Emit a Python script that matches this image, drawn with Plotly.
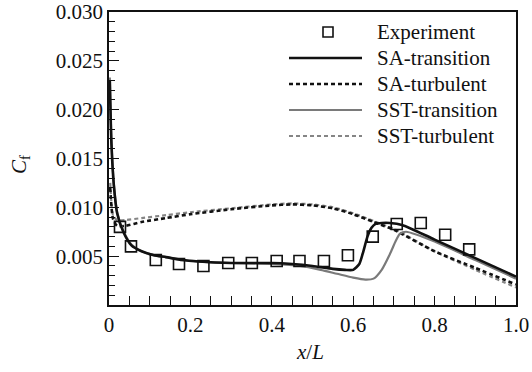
import plotly.graph_objects as go

# ---------------- data ----------------
exp_x = [0.027, 0.054, 0.115, 0.172, 0.232, 0.293, 0.351, 0.412, 0.468, 0.528, 0.587, 0.648, 0.707, 0.766, 0.826, 0.885]
exp_y = [0.0080, 0.0060, 0.0046, 0.0042, 0.0040, 0.0043, 0.0043, 0.0045, 0.0045, 0.0045, 0.0051, 0.0070, 0.0083, 0.0084, 0.0072, 0.0057]

sa_tr_x = [0.002, 0.006, 0.012, 0.02, 0.035, 0.055, 0.08, 0.11, 0.14, 0.18, 0.22, 0.3, 0.4, 0.45, 0.5, 0.55,
           0.58, 0.6, 0.615, 0.625, 0.635, 0.645, 0.655, 0.67, 0.69, 0.72, 0.8, 0.9, 1.0]
sa_tr_y = [0.0230, 0.0165, 0.0122, 0.0094, 0.0075, 0.0061, 0.0055, 0.0051, 0.0049, 0.0046, 0.00445, 0.0043, 0.0043,
           0.0042, 0.0040, 0.0037, 0.0036, 0.0036, 0.0042, 0.0055, 0.0070, 0.0079, 0.0083, 0.0084, 0.0084, 0.0082,
           0.0067, 0.0048, 0.0029]

sst_tr_x = [0.002, 0.006, 0.012, 0.02, 0.035, 0.055, 0.08, 0.11, 0.14, 0.18, 0.22, 0.3, 0.4, 0.47, 0.52, 0.56,
            0.6, 0.63, 0.65, 0.67, 0.69, 0.705, 0.715, 0.73, 0.8, 0.9, 1.0]
sst_tr_y = [0.0233, 0.0168, 0.0124, 0.0095, 0.0076, 0.0062, 0.0055, 0.0051, 0.0049, 0.0046, 0.00445, 0.0043, 0.0042,
            0.0040, 0.0036, 0.0032, 0.0028, 0.0026, 0.0027, 0.0036, 0.0052, 0.0066, 0.0073, 0.0075, 0.0065, 0.0046,
            0.0027]

sa_tu_x = [0.003, 0.01, 0.02, 0.04, 0.08, 0.14, 0.2, 0.3, 0.4, 0.45, 0.5, 0.55, 0.6, 0.65, 0.7, 0.8, 0.9, 1.0]
sa_tu_y = [0.0120, 0.0088, 0.0081, 0.0081, 0.0085, 0.0089, 0.0093, 0.0098, 0.0102, 0.0103, 0.0102, 0.0099,
           0.0093, 0.0085, 0.0077, 0.0055, 0.0038, 0.0021]

sst_tu_x = [0.003, 0.01, 0.02, 0.04, 0.08, 0.14, 0.2, 0.3, 0.4, 0.45, 0.5, 0.55, 0.6, 0.65, 0.7, 0.8, 0.9, 1.0]
sst_tu_y = [0.0125, 0.0092, 0.0087, 0.0087, 0.0089, 0.0092, 0.0095, 0.0099, 0.0103, 0.0104, 0.0103, 0.0100,
            0.0094, 0.0086, 0.0078, 0.0055, 0.0036, 0.0018]

x_ticks = [0, 0.2, 0.4, 0.6, 0.8, 1.0]
x_ticktext = ["0", "0.2", "0.4", "0.6", "0.8", "1.0"]
y_ticks = [0.005, 0.010, 0.015, 0.020, 0.025, 0.030]
y_ticktext = ["0.005", "0.010", "0.015", "0.020", "0.025", "0.030"]

legend_names = ["Experiment", "SA-transition", "SA-turbulent", "SST-transition", "SST-turbulent"]

# ---------------- styles ----------------
FONT = "Liberation Serif"
FS = 21
BLACK = "#111111"
GRAY = "#7a7a7a"
GRAY_D = "#858585"
W, H = 532, 372
L, R, T, B = 109, 516, 12, 305

styles = [
    dict(color=BLACK, width=2.6, dash="solid"),
    dict(color=BLACK, width=2.6, dash="4px,3px"),
    dict(color=GRAY, width=2.2, dash="solid"),
    dict(color=GRAY_D, width=2.2, dash="4px,3px"),
]

fig = go.Figure()
series = [(sa_tr_x, sa_tr_y), (sa_tu_x, sa_tu_y), (sst_tr_x, sst_tr_y), (sst_tu_x, sst_tu_y)]
order = [3, 1, 2, 0]
for i in order:
    sx, sy = series[i]
    fig.add_trace(go.Scatter(x=sx, y=sy, mode="lines", line=dict(shape="spline", smoothing=0.6, **styles[i]),
                             name=legend_names[i + 1], showlegend=False))

fig.add_trace(go.Scatter(x=exp_x, y=exp_y, mode="markers", name=legend_names[0], showlegend=False,
                         marker=dict(symbol="square-open", size=11, color=BLACK, line=dict(width=1.6, color=BLACK))))


def px(xp):
    return (xp - L) / (R - L)


def py(yp):
    return (B - yp) / (B - T)


# custom legend (long line samples)
rows = [32, 58, 84, 110, 136]
shapes = []
annotations = []
for k, name in enumerate(legend_names):
    yy = rows[k]
    if k == 0:
        shapes.append(dict(type="rect", xref="paper", yref="paper",
                           x0=px(328 - 5), x1=px(328 + 5), y0=py(yy + 5), y1=py(yy - 5),
                           line=dict(color=BLACK, width=1.6)))
    else:
        st = styles[k - 1]
        shapes.append(dict(type="line", xref="paper", yref="paper",
                           x0=px(289), x1=px(362), y0=py(yy), y1=py(yy),
                           line=dict(color=st["color"], width=st["width"], dash=st["dash"])))
    annotations.append(dict(text=name, xref="paper", yref="paper", x=px(375), y=py(yy),
                            xanchor="left", yanchor="middle", showarrow=False,
                            font=dict(family=FONT, size=FS, color=BLACK)))

annotations.append(dict(text="<i>C</i><sub>f</sub>", xref="paper", yref="paper", x=px(20), y=py(165),
                        xanchor="center", yanchor="middle", textangle=-90, showarrow=False,
                        font=dict(family=FONT, size=FS, color=BLACK)))
annotations.append(dict(text="<i>x</i>/<i>L</i>", xref="paper", yref="paper", x=px(310), y=py(352),
                        xanchor="center", yanchor="middle", showarrow=False,
                        font=dict(family=FONT, size=FS, color=BLACK)))

fig.update_layout(
    width=W, height=H,
    margin=dict(l=L, r=W - R, t=T, b=H - B, pad=0, autoexpand=False),
    paper_bgcolor="white", plot_bgcolor="white",
    font=dict(family=FONT, size=FS, color=BLACK),
    shapes=shapes, annotations=annotations,
    showlegend=False,
)
fig.update_xaxes(range=[0, 1], tickvals=x_ticks, ticktext=x_ticktext, ticks="inside", ticklen=9, tickwidth=1.4,
                 tickcolor=BLACK, showline=True, linecolor=BLACK, linewidth=1.6, mirror=True, showgrid=False,
                 zeroline=False, automargin=False, tickfont=dict(family=FONT, size=FS, color=BLACK),
                 minor=dict(dtick=0.05, ticks="inside", ticklen=9, tickwidth=1.4, tickcolor=BLACK, showgrid=False))
fig.update_yaxes(range=[0, 0.030], tickvals=y_ticks, ticktext=y_ticktext, ticks="inside", ticklen=10, tickwidth=1.4,
                 tickcolor=BLACK, showline=True, linecolor=BLACK, linewidth=1.6, mirror=True, showgrid=False,
                 zeroline=False, automargin=False, tickfont=dict(family=FONT, size=FS, color=BLACK),
                 minor=dict(dtick=0.001, ticks="inside", ticklen=6, tickwidth=1.4, tickcolor=BLACK, showgrid=False))

fig.write_html("out.html")
